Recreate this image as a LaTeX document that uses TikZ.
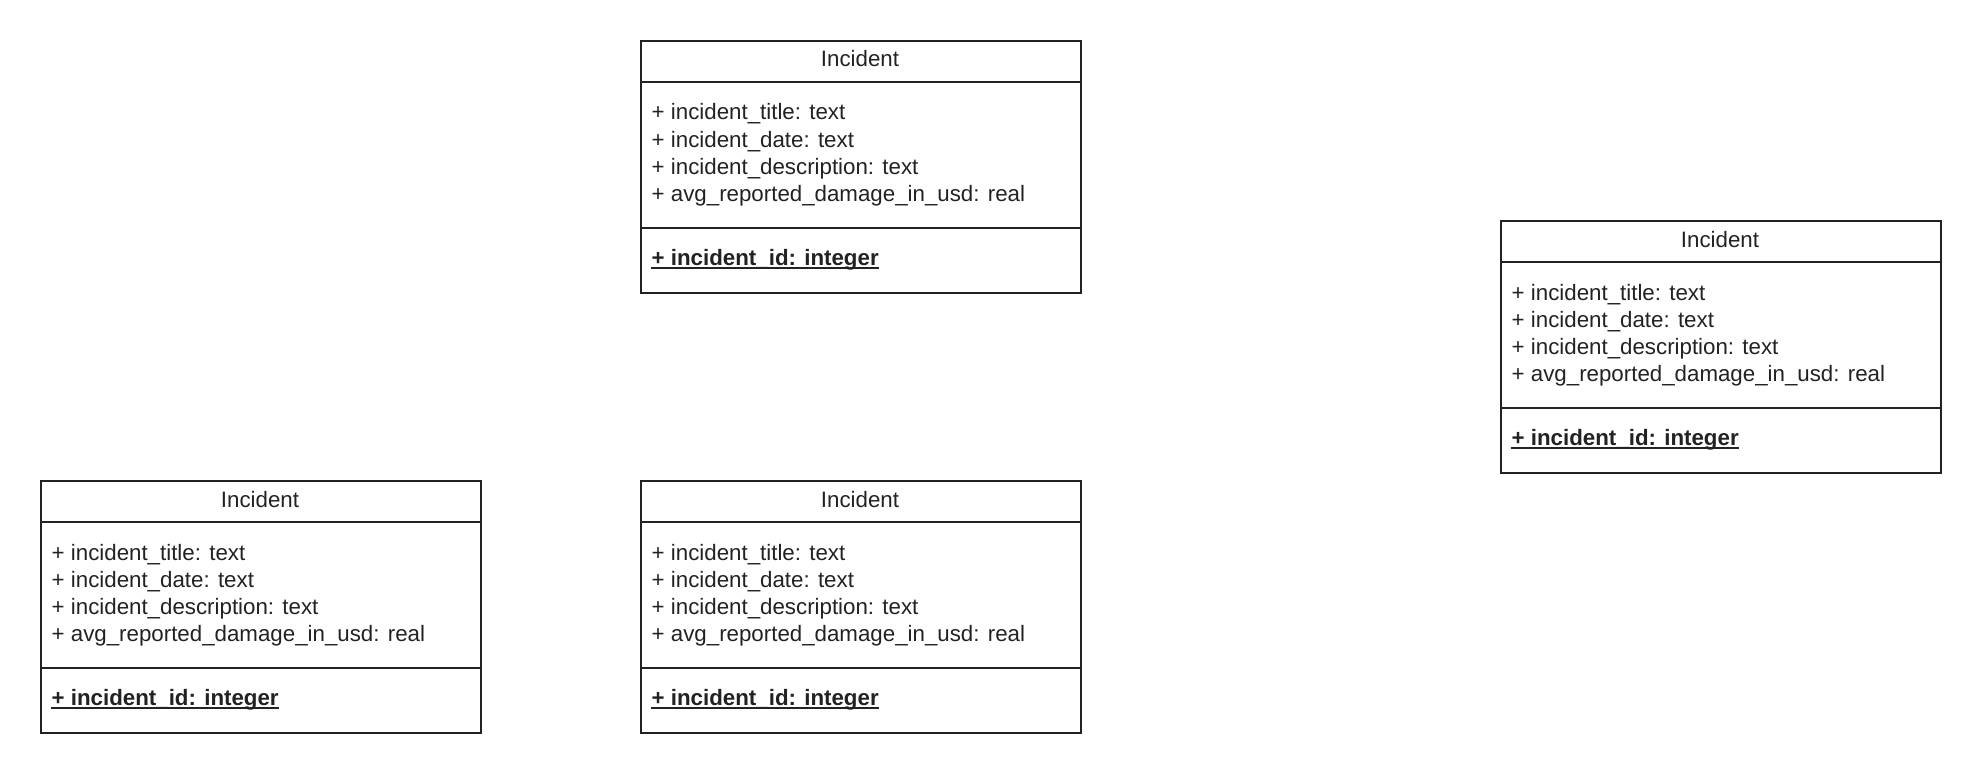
\documentclass[tikz,border=0pt]{standalone}
\usepackage{fontspec}
\setmainfont{Liberation Sans}
\definecolor{ink}{HTML}{222222}
\tikzset{
  frame/.style={draw=ink, line width=2pt, inner sep=0pt, minimum width=440pt, minimum height=252pt, anchor=north west},
  sepline/.style={draw=ink, line width=2pt},
  titletext/.style={anchor=base, inner sep=0pt, font=\fontsize{22.3}{27}\selectfont, text=ink},
  attrtext/.style={anchor=base west, inner sep=0pt, font=\fontsize{22.3}{27}\selectfont, text=ink},
  methtext/.style={anchor=base west, inner sep=0pt, font=\fontsize{22.3}{27}\selectfont\bfseries, text=ink},
  uline/.style={draw=ink, line width=1.7pt}
}
\newcommand\classbox[3]{%
  \node[frame] (#1) at (#2,#3) {};
  \draw[sepline] ([yshift=-42pt]#1.north west) -- ([yshift=-42pt]#1.north east);
  \draw[sepline] ([yshift=-188pt]#1.north west) -- ([yshift=-188pt]#1.north east);
  \node[titletext] (#1-t) at (#2+220,#3+27) {Incident};
  \node[attrtext] (#1-a1) at (#2+11.5,#3+80) {+ incident\_title: text};
  \node[attrtext] (#1-a2) at (#2+11.5,#3+107) {+ incident\_date: text};
  \node[attrtext] (#1-a3) at (#2+11.5,#3+134) {+ incident\_description: text};
  \node[attrtext] (#1-a4) at (#2+11.5,#3+161) {+ avg\_reported\_damage\_in\_usd: real};
  \node[methtext] (#1-m) at (#2+11.5,#3+225) {+ incident\_id: integer};
  \draw[uline] ([yshift=-3pt,xshift=-1pt]#1-m.base west) -- ([yshift=-3pt]#1-m.base east);
}
\begin{document}
\begin{tikzpicture}[x=1pt,y=-1pt]
  \useasboundingbox (0,0) rectangle (1980,773);
  \classbox{c1}{640}{40}
  \classbox{c2}{1500}{220}
  \classbox{c3}{40}{480}
  \classbox{c4}{640}{480}
\end{tikzpicture}
\end{document}
